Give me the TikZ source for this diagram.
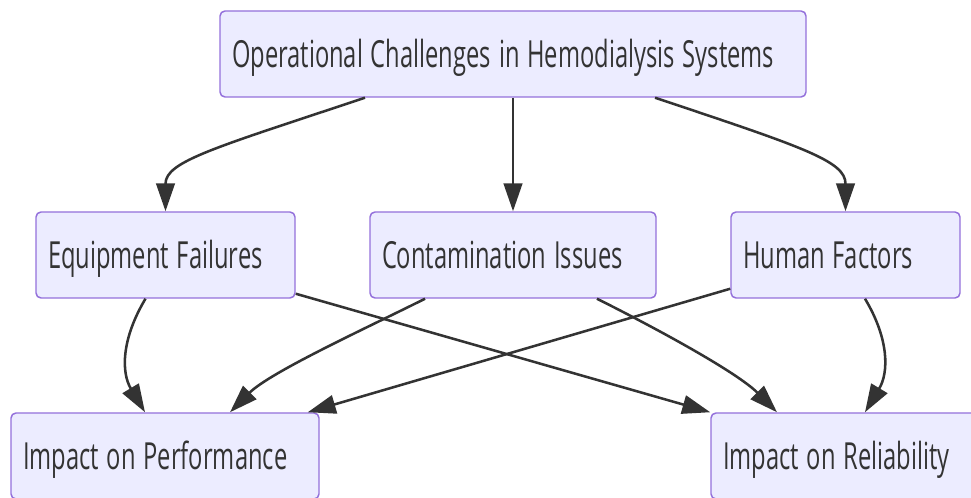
\documentclass[tikz,border=0pt]{standalone}
\usepackage{fontspec}
\usepackage{graphicx}
\usetikzlibrary{arrows.meta,calc}
\newfontfamily\boxfont{Open Sans}
\definecolor{boxfill}{HTML}{ECECFF}
\definecolor{boxline}{HTML}{9370DB}
\definecolor{edgegrey}{HTML}{333333}
\newcommand{\bxfont}{\boxfont\fontsize{28}{32}\selectfont}
% the chart's lettering is squeezed sideways
\newcommand{\sqz}[1]{\scalebox{0.635}[1]{#1}}
\tikzset{
  flowchart/.style={x=0.75pt, y=-0.75pt},
  % a step of the chart, text set flush left
  stepbox/.style={draw=boxline, fill=boxfill, line width=1.1pt,
                  rounded corners=3.75pt, rectangle, align=left,
                  inner xsep=9pt, inner ysep=0pt, minimum height=64.5pt,
                  text height=26pt, text depth=6pt,
                  font=\bxfont, text=edgegrey},
  % a link between two steps
  edge/.style={draw=edgegrey, line width=1.9pt,
               -{Triangle[length=21pt,width=14pt]}},
}
\newcommand{\bx}[5]{%
  \node[stepbox, text width=#4] (#1) at (#2,#3) {\sqz{#5}};%
}

\begin{document}
\begin{tikzpicture}[flowchart]
  \useasboundingbox (0,0) rectangle (971,498);

  \bx{top}{513}{54}{421.5pt}{Operational Challenges in Hemodialysis Systems}
  \bx{eq}{165.5}{255}{176.25pt}{Equipment Failures}
  \bx{co}{513}{255}{196.5pt}{Contamination Issues}
  \bx{hu}{845.5}{255}{153.75pt}{Human Factors}
  \bx{pe}{165}{456}{213pt}{Impact on Performance}
  \bx{re}{846}{456}{184.5pt}{Impact on Reliability}

  % first row
  \draw[edge] ($(top.south)+(-148,0)$) .. controls +(-150,50) and +(0,-50) .. (eq.north);
  \draw[edge] (top.south) -- (co.north);
  \draw[edge] ($(top.south)+(142,0)$) .. controls +(150,50) and +(0,-50) .. (hu.north);

  % second row
  \draw[edge] ($(eq.south)+(-20,0)$) .. controls +(-24,40) and +(-24,-40) .. ($(pe.north)+(-20,0)$);
  \draw[edge] ($(eq.south east)+(0,-5)$) -- (re.north west);
  \draw[edge] ($(co.south)+(-88,0)$) .. controls +(-60,30) and +(40,-40) .. ($(pe.north)+(65,0)$);
  \draw[edge] ($(co.south)+(84,0)$) .. controls +(60,30) and +(-40,-40) .. ($(re.north)+(-69,0)$);
  \draw[edge] ($(hu.south west)+(0,-10)$) -- ($(pe.north east)+(-12,0)$);
  \draw[edge] ($(hu.south)+(19.5,0)$) .. controls +(24,40) and +(24,-40) .. ($(re.north)+(19,0)$);
\end{tikzpicture}
\end{document}
